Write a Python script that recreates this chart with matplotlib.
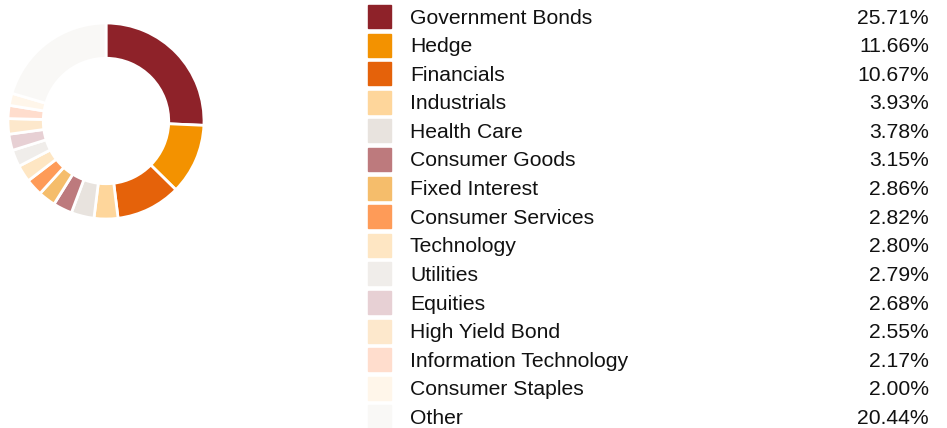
import matplotlib.pyplot as plt
from matplotlib.patches import Rectangle

plt.rcParams['font.family'] = ['Liberation Sans', 'DejaVu Sans']

sectors = ['Government Bonds', 'Hedge', 'Financials', 'Industrials', 'Health Care',
           'Consumer Goods', 'Fixed Interest', 'Consumer Services', 'Technology',
           'Utilities', 'Equities', 'High Yield Bond', 'Information Technology',
           'Consumer Staples', 'Other']
weights = [25.71, 11.66, 10.67, 3.93, 3.78, 3.15, 2.86, 2.82, 2.80, 2.79,
           2.68, 2.55, 2.17, 2.00, 20.44]
colors = ['#8E2229', '#F39200', '#E5620A', '#FED69B', '#E8E3DE', '#BD7A7D',
          '#F5BD6B', '#FE9B58', '#FEE6C3', '#F0EDEA', '#E7D0D4', '#FDE8CC',
          '#FFDDCD', '#FFF6EA', '#F9F8F6']

W, H = 947, 428
fig = plt.figure(figsize=(W / 100, H / 100), dpi=100)

# donut
cx, cy, r = 106, 121, 98
ax = fig.add_axes([(cx - r) / W, (H - cy - r) / H, 2 * r / W, 2 * r / H])
ax.pie(weights, colors=colors, startangle=90, counterclock=False,
       wedgeprops=dict(width=0.36, edgecolor='white', linewidth=2))
ax.set_xlim(-1, 1)
ax.set_ylim(-1, 1)
ax.set_aspect('equal')

# legend table
lg = fig.add_axes([0, 0, 1, 1])
lg.set_xlim(0, W)
lg.set_ylim(H, 0)
lg.axis('off')
for i, (name, val, c) in enumerate(zip(sectors, weights, colors)):
    y = 16.5 + i * 28.6
    lg.add_patch(Rectangle((368, y - 11.5), 23, 23, color=c))
    lg.text(410, y + 1.5, name, va='center', ha='left', fontsize=15.2, color='#111111')
    lg.text(929, y + 1.5, f'{val:.2f}%', va='center', ha='right', fontsize=15.2, color='#111111')

plt.savefig('out.png', dpi=100)
